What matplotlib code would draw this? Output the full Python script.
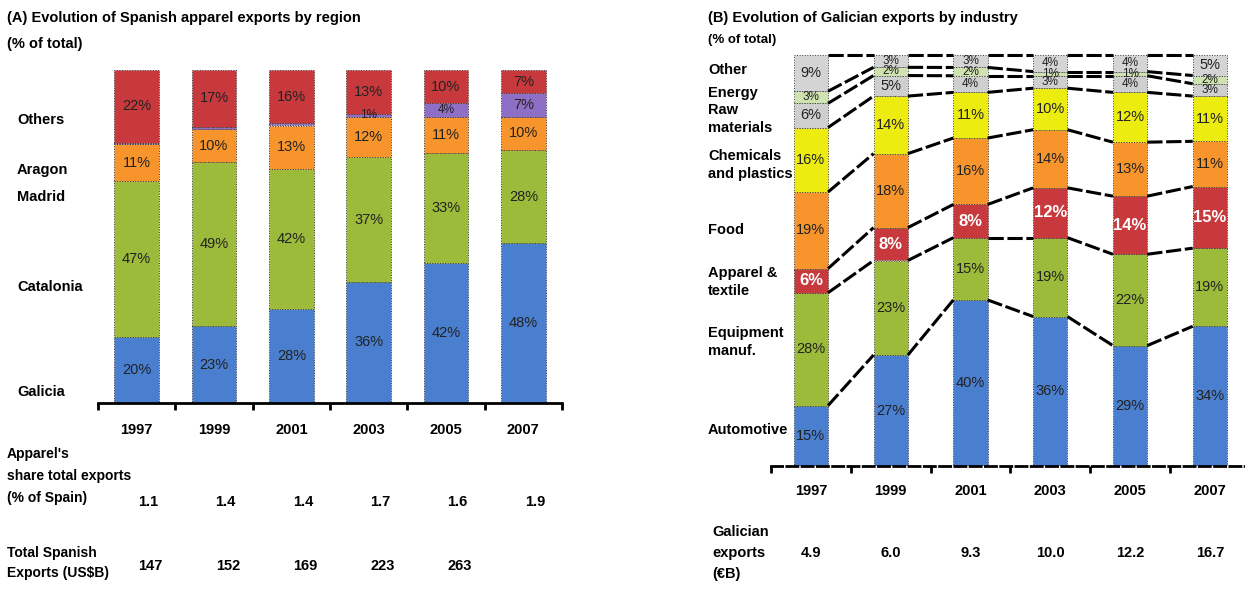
import matplotlib
matplotlib.use("Agg")
import matplotlib.pyplot as plt
import matplotlib.transforms as mtransforms
import numpy as np

plt.rcParams["font.family"] = ["Liberation Sans", "DejaVu Sans"]

# ---- panel A: Spanish apparel exports by region (% of total) ----
YEARS = ["1997", "1999", "2001", "2003", "2005", "2007"]
A_REGIONS = ["Galicia", "Catalonia", "Madrid", "Aragon", "Others"]
A_GALICIA = [20, 23, 28, 36, 42, 48]
A_CATALONIA = [47, 49, 42, 37, 33, 28]
A_ORANGE = [11, 10, 13, 12, 11, 10]
A_PURPLE = [0.4, 0.6, 0.6, 1, 4, 7]
A_OTHERS = [22, 17, 16, 13, 10, 7]
A_SHARE = ["1.1", "1.4", "1.4", "1.7", "1.6", "1.9"]
A_TOTAL = ["147", "152", "169", "223", "263", ""]

# ---- panel B: Galician exports by industry (% of total) ----
B_INDUSTRIES = ["Automotive", "Equipment\nmanuf.", "Apparel &\ntextile", "Food",
                "Chemicals\nand plastics", "Raw\nmaterials", "Energy", "Other"]
B_AUTO = [15, 27, 40, 36, 29, 34]
B_EQUIP = [28, 23, 15, 19, 22, 19]
B_APPAREL = [6, 8, 8, 12, 14, 15]
B_FOOD = [19, 18, 16, 14, 13, 11]
B_CHEM = [16, 14, 11, 10, 12, 11]
B_RAW = [6, 5, 4, 3, 4, 3]
B_ENERGY = [3, 2, 2, 1, 1, 2]
B_OTHER = [9, 3, 3, 4, 4, 5]
B_EXPORTS = ["4.9", "6.0", "9.3", "10.0", "12.2", "16.7"]

A_COLORS = ["#4a7fd0", "#9cbb3a", "#f7952c", "#8f6fc6", "#c8393d"]
B_COLORS = ["#4a7fd0", "#9cbb3a", "#c8393d", "#f7952c", "#ecec10",
            "#cfcfcf", "#cfe3b0", "#d4d4d4"]

W, H = 1245, 590


def fx(px):
    return px / W


def fy(py):
    return 1 - py / H


def stacked(ax, series, colors, width, label_min, white_idx=()):
    raw = np.array(series, dtype=float)
    data = raw / raw.sum(axis=0) * 100
    x = np.arange(data.shape[1])
    bottom = np.zeros(data.shape[1])
    for k, (row, col) in enumerate(zip(data, colors)):
        ax.bar(x, row, width, bottom=bottom, color=col,
               edgecolor="#3a3a3a", linewidth=0.7, linestyle=":")
        for i in range(len(x)):
            v = raw[k, i]
            if v >= label_min:
                white = k in white_idx
                size = 12 if white else (8.5 if v < 5 else 10.5)
                ax.text(x[i], bottom[i] + row[i] / 2, f"{v:.0f}%",
                        ha="center", va="center", fontsize=size,
                        color="white" if white else "#222222",
                        fontweight="bold" if white else "normal")
        bottom = bottom + row
    return x, data


def style_axis(ax, n, dash):
    ax.set_xlim(-0.5, n - 0.5)
    ax.set_ylim(0, 100)
    for s in ["top", "right", "left"]:
        ax.spines[s].set_visible(False)
    ax.spines["bottom"].set_linestyle(dash)
    ax.spines["bottom"].set_linewidth(2)
    ax.set_yticks([])
    ax.set_xticks(np.arange(-0.5, n, 1.0))
    ax.set_xticklabels([])
    ax.tick_params(axis="x", direction="out", length=5, width=2, color="black")


fig = plt.figure(figsize=(W / 100, H / 100), dpi=100)
bold = dict(fontweight="bold", fontsize=10.5, color="black")

# ---------------- panel A ----------------
axA = fig.add_axes([fx(98), fy(403), fx(562) - fx(98), fy(70) - fy(403)])
xA, _ = stacked(axA, [A_GALICIA, A_CATALONIA, A_ORANGE, A_PURPLE, A_OTHERS],
                A_COLORS, 0.58, 1)
style_axis(axA, len(YEARS), (0, (1, 1)))

fig.text(fx(7), fy(18), "(A) Evolution of Spanish apparel exports by region",
         va="center", **bold)
fig.text(fx(7), fy(44), "(% of total)", va="center", **bold)

for name, py in zip(A_REGIONS, [392, 287, 197, 170, 120]):
    fig.text(fx(17), fy(py), name, va="center", **bold)

trA = mtransforms.blended_transform_factory(axA.transData, fig.transFigure)
for i, yr in enumerate(YEARS):
    axA.text(i, fy(430), yr, transform=trA, ha="center", va="center", **bold)

fig.text(fx(7), fy(476), "Apparel's\nshare total exports\n(% of Spain)",
         va="center", linespacing=1.75, fontweight="bold", fontsize=10)
fig.text(fx(7), fy(563), "Total Spanish\nExports (US$B)", va="center",
         linespacing=1.5, fontweight="bold", fontsize=10)
for i, (s, t) in enumerate(zip(A_SHARE, A_TOTAL)):
    axA.text(i + 0.15, fy(502), s, transform=trA, ha="center", va="center", **bold)
    axA.text(i + 0.18, fy(566), t, transform=trA, ha="center", va="center", **bold)

# ---------------- panel B ----------------
axB = fig.add_axes([fx(771), fy(466), fx(1245) - fx(771), fy(55) - fy(466)])
wB = 0.43
xB, dataB = stacked(axB, [B_AUTO, B_EQUIP, B_APPAREL, B_FOOD, B_CHEM,
                          B_RAW, B_ENERGY, B_OTHER],
                    B_COLORS, wB, 0, white_idx=(2,))
style_axis(axB, len(YEARS), (0, (4, 1.5)))
axB.set_xlim(-0.5, len(YEARS) - 0.56)

# connectors between segment boundaries of neighbouring bars
cum = np.cumsum(dataB, axis=0)
for i in range(len(xB) - 1):
    for k in range(cum.shape[0]):
        axB.plot([xB[i] + wB / 2, xB[i + 1] - wB / 2], [cum[k, i], cum[k, i + 1]],
                 color="black", linewidth=2.2, linestyle=(0, (5, 1.2)),
                 clip_on=False, zorder=3)

fig.text(fx(708), fy(18), "(B) Evolution of Galician exports by industry",
         va="center", **bold)
fig.text(fx(708), fy(40), "(% of total)", va="center", fontweight="bold",
         fontsize=9.5)

for name, py in zip(B_INDUSTRIES, [430, 342, 282, 230, 165, 119, 93, 70]):
    fig.text(fx(708), fy(py), name, va="center", linespacing=1.3, **bold)

trB = mtransforms.blended_transform_factory(axB.transData, fig.transFigure)
for i, yr in enumerate(YEARS):
    axB.text(i, fy(491), yr, transform=trB, ha="center", va="center", **bold)
for i, v in enumerate(B_EXPORTS):
    axB.text(i, fy(553), v, transform=trB, ha="center", va="center", **bold)
fig.text(fx(712), fy(553), "Galician\nexports\n(€B)", va="center",
         linespacing=1.6, **bold)

fig.savefig("out.png", dpi=100)
